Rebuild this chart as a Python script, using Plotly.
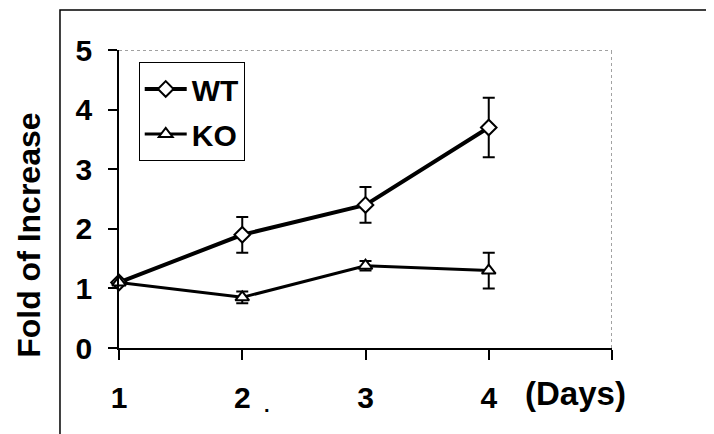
import plotly.graph_objects as go

days = [1, 2, 3, 4]
wt_mean = [1.1, 1.9, 2.4, 3.7]
wt_err = [0.0, 0.3, 0.3, 0.5]
ko_mean = [1.1, 0.85, 1.38, 1.3]
ko_err = [0.0, 0.1, 0.08, 0.3]
x_tickvals = [1, 2, 3, 4, 5]
x_ticktext = ["1", "2", "3", "4", ""]
y_tickvals = [0, 1, 2, 3, 4, 5]

FONT = "Liberation Sans, Arial, sans-serif"

fig = go.Figure()
fig.add_trace(go.Scatter(
    x=days, y=wt_mean, name="WT", mode="lines+markers",
    line=dict(color="black", width=4),
    marker=dict(symbol="diamond", size=12, color="white", line=dict(color="black", width=2)),
    error_y=dict(type="data", array=wt_err, color="black", thickness=2, width=6, visible=True),
    cliponaxis=False, legendgroup="a",
))
fig.add_trace(go.Scatter(
    x=days, y=ko_mean, name="KO", mode="lines+markers",
    line=dict(color="black", width=3),
    marker=dict(symbol="triangle-up", size=12, color="white", line=dict(color="black", width=2)),
    error_y=dict(type="data", array=ko_err, color="black", thickness=2, width=6, visible=True),
    cliponaxis=False, legendgroup="b",
))

fig.update_layout(
    width=706, height=426,
    margin=dict(l=111, r=102, t=42, b=86),
    paper_bgcolor="white", plot_bgcolor="white",
    font=dict(family=FONT, color="black"),
    showlegend=True,
    legend=dict(
        x=0.04, y=0.96, xanchor="left", yanchor="top",
        bordercolor="black", borderwidth=1, bgcolor="white",
        font=dict(size=30, weight="bold", family=FONT),
        tracegroupgap=3, traceorder="grouped", itemwidth=42,
    ),
    xaxis=dict(
        range=[1, 5], tickvals=x_tickvals, ticktext=x_ticktext,
        showgrid=False, zeroline=False, showline=True, linecolor="black", linewidth=1.5,
        ticks="outside", ticklen=10, tickwidth=1.5, tickcolor="black",
        tickfont=dict(size=30, weight="bold", family=FONT),
        ticklabelstandoff=12,
    ),
    yaxis=dict(
        range=[0, 5], tickvals=y_tickvals,
        showgrid=False, zeroline=False, showline=True, linecolor="black", linewidth=1.5,
        ticks="outside", ticklen=9, tickwidth=1.5, tickcolor="black",
        tickfont=dict(size=30, weight="bold", family=FONT),
        ticklabelstandoff=10,
    ),
    shapes=[
        dict(type="line", xref="x", yref="y", x0=1, x1=5, y0=5, y1=5,
             line=dict(color="#444", width=1, dash="dot")),
        dict(type="line", xref="x", yref="y", x0=5, x1=5, y0=0, y1=5,
             line=dict(color="#444", width=1, dash="dot")),
        dict(type="rect", xref="paper", yref="paper", x0=-0.1197, x1=1.4, y0=-0.6, y1=1.134,
             line=dict(color="black", width=1.5)),
    ],
    annotations=[
        dict(text="Fold of Increase", xref="paper", yref="paper", x=-0.183, y=0.379,
             textangle=-90, showarrow=False, font=dict(size=32, weight="bold", family=FONT),
             xanchor="center", yanchor="middle"),
        dict(text="(Days)", xref="x", yref="paper", x=4.706, y=-0.154,
             showarrow=False, font=dict(size=33, weight="bold", family=FONT),
             xanchor="center", yanchor="middle"),
        dict(text=".", xref="x", yref="paper", x=2.2, y=-0.19,
             showarrow=False, font=dict(size=20, weight="bold", family=FONT),
             xanchor="center", yanchor="middle"),
    ],
)

fig.write_html("out.html")
